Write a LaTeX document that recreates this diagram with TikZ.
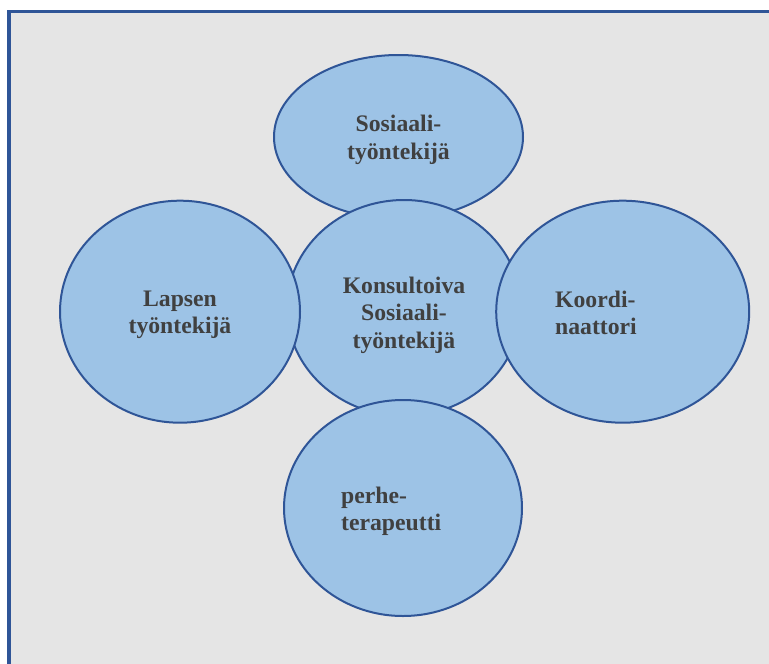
\documentclass[tikz,border=0pt]{standalone}
\usepackage{fontspec}
\setmainfont{Liberation Serif}
\usetikzlibrary{shapes.geometric}

\definecolor{rolefill}{HTML}{9DC3E6}
\definecolor{roleline}{HTML}{2F5597}
\definecolor{panelgray}{HTML}{E5E5E5}
\definecolor{roletext}{HTML}{404040}

\tikzset{
    role/.style={ellipse, draw=roleline, fill=rolefill, line width=2pt, inner sep=0pt},
    rolelabel/.style={inner sep=0pt, text=roletext,
        font=\fontsize{23.7}{27.3}\selectfont\bfseries}
}

\begin{document}
\begin{tikzpicture}[x=1pt, y=-1pt]

    % Page size of the reference picture
    \useasboundingbox (0,0) rectangle (769,664);
    \fill[white] (0,0) rectangle (769,664);

    % Grey panel with its blue frame on the left and the top
    \fill[panelgray] (9,11.7) rectangle (769,664);
    \draw[roleline, line width=3.3pt] (9,664) -- (9,11.7) -- (769,11.7);

    % The five ellipses, drawn from back to front
    \node[role, minimum width=249pt, minimum height=164pt] (sosiaali) at (398.5,137) {};
    \node[role, minimum width=234pt, minimum height=216pt] (konsultoiva) at (404,308) {};
    \node[role, minimum width=240pt, minimum height=222pt] (lapsen) at (180,311.7) {};
    \node[role, minimum width=253pt, minimum height=222pt] (koordi) at (622.7,311.7) {};
    \node[role, minimum width=238pt, minimum height=216pt] (perhe) at (403,508) {};

    % Labels inside the ellipses
    \node[rolelabel, align=center] (sosiaaliText) at (398.5,139.8) {Sosiaali-\\työntekijä};
    \node[rolelabel, align=center] (konsultoivaText) at (404,315.1) {Konsultoiva\\Sosiaali-\\työntekijä};
    \node[rolelabel, align=center] (lapsenText) at (180,314.8) {Lapsen\\työntekijä};
    \node[rolelabel, align=left, anchor=west] (koordiText) at (555,312.8) {Koordi-\\naattori};
    \node[rolelabel, align=left, anchor=west] (perheText) at (341,511) {perhe-\\terapeutti};

\end{tikzpicture}
\end{document}
